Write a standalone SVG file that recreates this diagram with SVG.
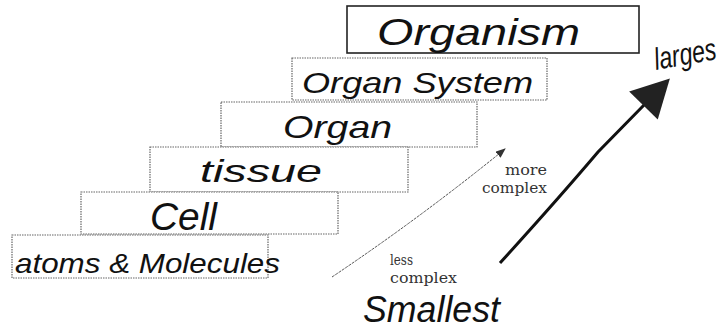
<svg xmlns="http://www.w3.org/2000/svg" width="727" height="329" viewBox="0 0 727 329">
<style>
.box{fill:#fff;stroke:#666;stroke-width:1.2;stroke-dasharray:1.5 1}
.top{fill:#fff;stroke:#222;stroke-width:1.6}
.hw{font-family:"Liberation Sans","DejaVu Sans",sans-serif;font-style:italic;fill:#111}
.sf{font-family:"DejaVu Serif","Liberation Serif",serif;font-size:14px;fill:#333}
</style>
<defs>
<marker id="big" markerUnits="userSpaceOnUse" markerWidth="40" markerHeight="40" viewBox="0 0 34 36" refX="2" refY="18" orient="auto">
<path d="M0,0 L34,18 L0,36 Z" fill="#222"/>
</marker>
<marker id="small" markerUnits="userSpaceOnUse" markerWidth="10" markerHeight="8" viewBox="0 0 10 8" refX="9" refY="4" orient="auto">
<path d="M0,0 L10,4 L0,8 Z" fill="#333"/>
</marker>
</defs>
<rect width="727" height="329" fill="#fff"/>
<g id="organism"><rect class="top" x="347" y="6" width="292" height="47"/><text class="hw" x="377" y="45" font-size="36" textLength="203" lengthAdjust="spacingAndGlyphs">Organism</text></g>
<g id="organ-system"><rect class="box" x="292" y="58" width="255" height="42"/><text class="hw" x="302" y="93" font-size="30" textLength="231" lengthAdjust="spacingAndGlyphs">Organ System</text></g>
<g id="organ"><rect class="box" x="221" y="102" width="256" height="45"/><text class="hw" x="283" y="138" font-size="32" textLength="109" lengthAdjust="spacingAndGlyphs">Organ</text></g>
<g id="tissue"><rect class="box" x="150" y="147" width="258" height="45"/><text class="hw" x="200" y="182" font-size="32" textLength="122" lengthAdjust="spacingAndGlyphs">tissue</text></g>
<g id="cell"><rect class="box" x="81" y="192" width="257" height="42"/><text class="hw" x="150" y="230" font-size="38" textLength="67" lengthAdjust="spacingAndGlyphs">Cell</text></g>
<g id="atoms"><rect class="box" x="12" y="235" width="256" height="43"/><text class="hw" x="15" y="273" font-size="28" textLength="265" lengthAdjust="spacingAndGlyphs">atoms &amp; Molecules</text></g>
<g id="connectors">
<path d="M332,277 Q420,218 505,149" fill="none" stroke="#555" stroke-width="1" stroke-dasharray="3 1" marker-end="url(#small)"/>
<path d="M500,263 C530,230 570,185 598,152 L645,104" fill="none" stroke="#111" stroke-width="3" marker-end="url(#big)"/>
</g>
<g id="labels">
<text class="sf" x="505" y="175" textLength="42" lengthAdjust="spacingAndGlyphs">more</text>
<text class="sf" x="482" y="193" textLength="65" lengthAdjust="spacingAndGlyphs">complex</text>
<text class="sf" x="390" y="265" textLength="23" lengthAdjust="spacingAndGlyphs">less</text>
<text class="sf" x="390" y="283" textLength="67" lengthAdjust="spacingAndGlyphs">complex</text>
<text class="hw" x="363" y="322" font-size="36" textLength="137" lengthAdjust="spacingAndGlyphs">Smallest</text>
<text class="hw" x="0" y="0" font-size="23" transform="translate(656 70) rotate(-10) scale(1 1.35)">larges</text>
</g>
</svg>
